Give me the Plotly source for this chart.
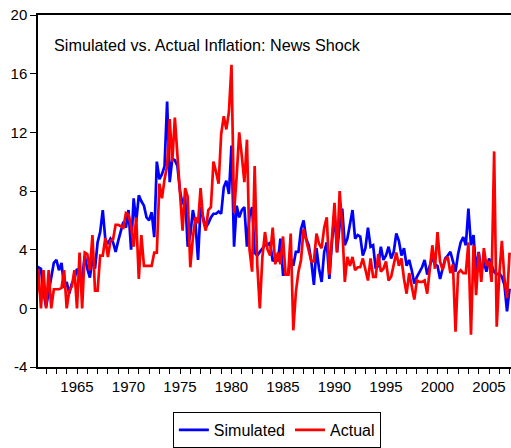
import plotly.graph_objects as go

start_year = 1961.0
simulated = [
    0.0, 2.8, 2.7, 1.1, 0.1, 1.2, 2.0, 3.1, 3.3, 2.6,
    3.1, 1.4, 1.8, 1.0, 1.7, 2.0, 2.7, 2.2, 2.0, 3.6,
    2.7, 2.1, 3.4, 2.7, 4.5, 5.2, 6.7, 4.7, 4.4, 4.75,
    4.5, 3.85, 4.6, 5.2, 5.9, 5.5, 6.7, 4.0, 7.5, 5.9,
    7.7, 7.3, 7.0, 6.2, 6.0, 6.55, 4.85, 10.0, 8.8, 9.15,
    9.7, 14.1, 8.6, 10.2, 10.1, 9.7, 8.0, 7.1, 7.6, 4.2,
    5.0, 6.7, 5.8, 3.3, 6.9, 6.2, 5.5, 5.8, 6.2, 6.45,
    6.45, 6.6, 6.45, 8.25, 8.7, 7.8, 11.1, 4.2, 7.0, 6.2,
    6.7, 6.9, 4.2, 6.3, 6.9, 3.8, 3.6, 3.85, 4.1, 4.3,
    4.3, 4.5, 3.2, 3.5, 3.2, 4.75, 2.3, 2.3, 2.3, 3.4,
    2.9, 3.85, 3.85, 5.4, 6.0, 4.75, 4.3, 3.2, 1.6, 4.1,
    2.7, 1.8, 3.85, 4.5, 2.0, 4.5, 6.55, 3.85, 5.65, 6.8,
    4.3, 4.75, 5.65, 6.7, 4.75, 5.0, 4.9, 3.6, 4.1, 5.5,
    4.2, 4.3, 2.7, 2.9, 4.2, 3.3, 3.6, 4.2, 3.4, 3.85,
    5.1, 4.6, 3.6, 4.1, 2.9, 3.3, 2.6, 1.7, 2.15, 2.5,
    2.8, 3.3, 2.3, 2.9, 3.5, 3.0, 2.9, 2.0, 2.7, 3.4,
    3.6, 3.85, 3.2, 2.5, 3.7, 4.5, 4.85, 4.3, 6.8, 4.3,
    5.0, 2.5, 3.85, 2.5, 3.2, 2.5, 3.4, 2.9, 2.5, 2.3,
    2.4, 2.15, 1.6, -0.2, 1.35,
]
actual = [
    0.0, 2.7, 0.0, 2.6, 0.0, 2.6, 0.0, 1.3, 1.3, 1.3,
    1.4, 2.6, 0.0, 1.2, 1.5, 2.6, 0.0, 3.8, 0.0, 3.8,
    3.7, 2.6, 5.0, 1.2, 1.2, 3.6, 3.6, 4.8, 3.5, 4.6,
    4.7, 5.7, 5.7, 5.6, 5.5, 6.5, 6.4, 5.6, 4.2, 6.2,
    2.0, 5.0, 2.9, 2.9, 2.9, 2.9, 3.8, 3.8, 8.5, 7.5,
    8.8, 9.7, 12.9, 10.0, 13.0, 10.5, 7.5, 5.3, 8.2, 7.6,
    2.8, 4.8, 6.2, 5.8, 8.2, 6.0, 5.3, 6.7, 6.9, 10.0,
    9.3, 8.5, 11.9, 13.1, 12.2, 13.4, 16.6, 6.5, 9.0, 12.0,
    10.4, 8.6, 11.5, 4.0, 2.5, 9.7, 3.0, 0.0, 3.5, 5.2,
    4.0, 3.6, 5.5, 3.0, 3.8, 3.0, 4.9, 2.3, 2.3, 5.1,
    -1.5, 1.1, 2.5, 3.3, 5.4, 4.7, 4.0, 3.2, 3.2, 5.1,
    4.4, 4.1, 5.5, 6.2, 2.3, 5.0, 7.2, 3.8, 8.0, 5.6,
    1.8, 3.5, 2.9, 3.5, 2.6, 2.8, 2.8, 3.4, 2.7, 1.9,
    3.4, 2.15, 2.15, 3.7, 2.5, 2.7, 3.2, 1.9, 2.15, 2.9,
    3.8, 2.9, 3.4, 2.0, 1.0, 2.4, 1.6, 0.6, 1.9, 1.8,
    1.8, 1.9, 1.0, 2.9, 4.3, 2.7, 5.2, 3.2, 2.6, 3.3,
    3.5, 2.4, 3.0, -1.6, 2.4, 2.6, 2.4, 2.4, 4.5, -1.8,
    4.3, 0.9, 3.8, 1.8, 4.1, 2.9, 3.2, 1.8, 10.7, -1.25,
    2.3, 4.6, 2.0, 0.7, 3.8,
]
dates = [start_year + i / 4 for i in range(len(actual))]
x_tick_vals = list(range(1965, 2010, 5))
y_tick_vals = [-4, 0, 4, 8, 12, 16, 20]
y_tick_text = ["-4", "0", "4", "8", "12", "16", "20"]
title_text = "Simulated vs. Actual Inflation: News Shock"

FONT = "Arial, 'Liberation Sans', sans-serif"

fig = go.Figure()
fig.add_trace(go.Scatter(x=dates, y=simulated, mode="lines", name="Simulated",
                         line=dict(color="#0000FF", width=2.7)))
fig.add_trace(go.Scatter(x=dates, y=actual, mode="lines", name="Actual",
                         line=dict(color="#FF0000", width=2.7)))

fig.update_layout(
    width=511, height=448,
    margin=dict(l=38, r=0, t=15, b=78),
    paper_bgcolor="white", plot_bgcolor="white",
    font=dict(family=FONT, size=15, color="black"),
    showlegend=True,
    legend=dict(orientation="h", x=0.505, xanchor="center", y=-0.128, yanchor="top",
                bordercolor="black", borderwidth=1, font=dict(size=16),
                itemwidth=30, tracegroupgap=0),
    annotations=[dict(text=title_text, xref="paper", yref="paper",
                      x=0.0296, y=0.9155, xanchor="left", yanchor="middle",
                      showarrow=False, font=dict(size=16.2, color="black"))],
)
fig.update_xaxes(range=[1961.214, 2007.136], tickvals=x_tick_vals,
                 ticks="outside", ticklen=5, tickcolor="black",
                 showline=True, linecolor="black", linewidth=1.5, mirror=True,
                 showgrid=False, zeroline=False,
                 minor=dict(dtick=1, tick0=1961, ticks="outside", ticklen=5, tickcolor="black"))
fig.update_yaxes(range=[-4, 20], tickvals=y_tick_vals, ticktext=y_tick_text,
                 ticks="outside", ticklen=6, tickcolor="black",
                 showline=True, linecolor="black", linewidth=1.5,
                 showgrid=False, zeroline=False)

fig.write_html("out.html")
